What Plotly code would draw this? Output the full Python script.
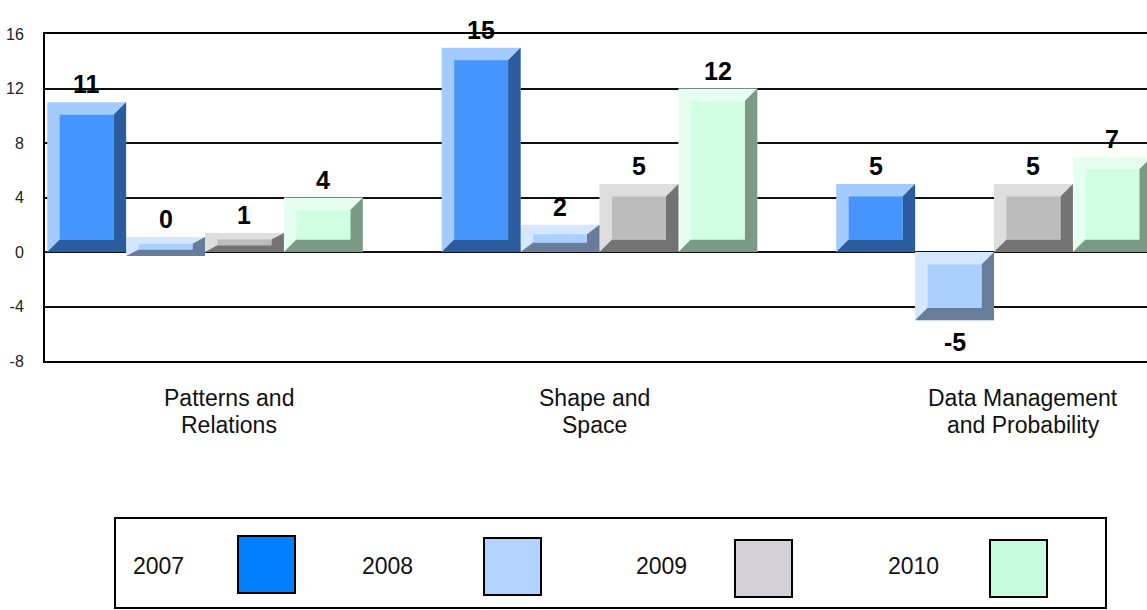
import plotly.graph_objects as go

# ---------------- data ----------------
categories = ["Patterns and<br>Relations", "Shape and<br>Space", "Data Management<br>and Probability"]
years = ["2007", "2008", "2009", "2010"]
v2007 = [11, 15, 5]
v2008 = [0, 2, -5]
v2009 = [1, 5, 5]
v2010 = [4, 12, 7]
y_ticks = [-8, -4, 0, 4, 8, 12, 16]

series = [v2007, v2008, v2009, v2010]

# ---------------- styles ----------------
light = ["#a3cbff", "#d5e7ff", "#dedede", "#e5fff0"]
face = ["#4695ff", "#abd0ff", "#bcbcbc", "#d1ffe1"]
dark = ["#2b5c9d", "#687c9b", "#737373", "#7a9a86"]
legend_col = ["#0080ff", "#b0d4ff", "#d4d0d8", "#c4fcdc"]

W, H = 1147, 610
L, R, T, B = 45, 0, 34, 249
PW, PH = W - L - R, H - T - B
YR = [-8, 16]
XR = [-0.4056, -0.4056 + PW / 394.5]
BAR_W = 0.2
offsets = [-0.3, -0.1, 0.1, 0.3]
px_per_x = PW / (XR[1] - XR[0])
px_per_y = PH / (YR[1] - YR[0])
BEVEL_PX = 12.5
MIN_VIS = 1.4
VAL_FONT = dict(family="Liberation Sans, Arial", size=25, color="#000000", weight="bold")

def px2paper_x(px):
    return (px - L) / PW

def px2paper_y(py):
    return (T + PH - py) / PH

def vis_span(v):
    if v == 0:
        return -0.3, MIN_VIS - 0.3
    if 0 < v < MIN_VIS:
        return 0, MIN_VIS
    if -MIN_VIS < v < 0:
        return -MIN_VIS, 0
    return (0, v) if v > 0 else (v, 0)

fig = go.Figure()
shapes = []
annotations = []

for s, vals in enumerate(series):
    xs, ys, bases = [], [], []
    for i, v in enumerate(vals):
        lo, hi = vis_span(v)
        xs.append(i + offsets[s])
        ys.append(hi - lo)
        bases.append(lo)
    fig.add_trace(go.Bar(
        x=xs, y=ys, base=bases, width=BAR_W, name=years[s],
        marker=dict(color=light[s], line=dict(width=0)),
        customdata=vals, hovertemplate="%{customdata}<extra>" + years[s] + "</extra>",
        showlegend=False,
    ))
    for i, v in enumerate(vals):
        lo, hi = vis_span(v)
        xc = i + offsets[s]
        x0, x1 = xc - BAR_W / 2, xc + BAR_W / 2
        bx = BEVEL_PX / px_per_x
        hpx = (hi - lo) * px_per_y
        by = min(BEVEL_PX, 0.35 * hpx) / px_per_y
        # dark right + bottom bevel
        path = (f"M {x1},{hi} L {x1},{lo} L {x0},{lo} L {x0+bx},{lo+by} "
                f"L {x1-bx},{lo+by} L {x1-bx},{hi-by} Z")
        shapes.append(dict(type="path", path=path, xref="x", yref="y",
                           fillcolor=dark[s], line=dict(width=0), layer="above"))
        shapes.append(dict(type="rect", x0=x0 + bx, x1=x1 - bx, y0=lo + by, y1=hi - by,
                           xref="x", yref="y", fillcolor=face[s], line=dict(width=0),
                           layer="above"))
        # value label
        if v >= 0:
            annotations.append(dict(x=xc, y=hi, xref="x", yref="y", text=str(v),
                                    showarrow=False, yanchor="middle", yshift=18,
                                    font=VAL_FONT))
        else:
            annotations.append(dict(x=xc, y=lo, xref="x", yref="y", text=str(v),
                                    showarrow=False, yanchor="middle", yshift=-22,
                                    font=VAL_FONT))

# category labels (two lines each)
cat_px = [229, 594, 1023]
line_py = [398, 425]
for i, cat in enumerate(categories):
    for j, line in enumerate(cat.split("<br>")):
        annotations.append(dict(x=px2paper_x(cat_px[i]), y=px2paper_y(line_py[j]),
                                xref="paper", yref="paper", text=line, showarrow=False,
                                xanchor="center", yanchor="middle",
                                font=dict(family="Liberation Sans, Arial", size=23, color="#111111")))

# legend box
shapes.append(dict(type="rect", xref="paper", yref="paper",
                   x0=px2paper_x(115), x1=px2paper_x(1106),
                   y0=px2paper_y(608), y1=px2paper_y(518),
                   line=dict(color="#000000", width=2), fillcolor="rgba(0,0,0,0)"))
text_px = [131, 360, 634, 886]
sw_px = [238, 484, 735, 990]
sw_py = [536, 538, 540, 540]
SW = 57
for k, yr in enumerate(years):
    annotations.append(dict(x=px2paper_x(text_px[k]), y=px2paper_y(566), xref="paper", yref="paper",
                            text=yr, showarrow=False, xanchor="left", yanchor="middle",
                            font=dict(family="Liberation Sans, Arial", size=23, color="#111111")))
    shapes.append(dict(type="rect", xref="paper", yref="paper",
                       x0=px2paper_x(sw_px[k]), x1=px2paper_x(sw_px[k] + SW),
                       y0=px2paper_y(sw_py[k] + SW), y1=px2paper_y(sw_py[k]),
                       line=dict(color="#000000", width=2), fillcolor=legend_col[k]))

fig.update_layout(
    width=W, height=H,
    margin=dict(l=L, r=R, t=T, b=B, pad=0),
    paper_bgcolor="white", plot_bgcolor="white",
    barmode="overlay",
    showlegend=False,
    shapes=shapes, annotations=annotations,
    xaxis=dict(range=XR, showticklabels=False, showgrid=False, zeroline=False,
               showline=True, mirror=True, linecolor="#000000", linewidth=2, ticks=""),
    yaxis=dict(range=YR, tickvals=y_ticks, ticktext=[str(t) for t in y_ticks],
               showgrid=True, gridcolor="#111111", gridwidth=2,
               zeroline=True, zerolinecolor="#111111", zerolinewidth=2,
               showline=True, linecolor="#000000", linewidth=2, ticks="",
               ticklabelstandoff=16,
               tickfont=dict(family="Liberation Sans, Arial", size=16, color="#222222")),
)

fig.write_html("out.html", config={"displayModeBar": False},
               post_script="document.body.style.margin='0';document.body.style.overflow='hidden';")
